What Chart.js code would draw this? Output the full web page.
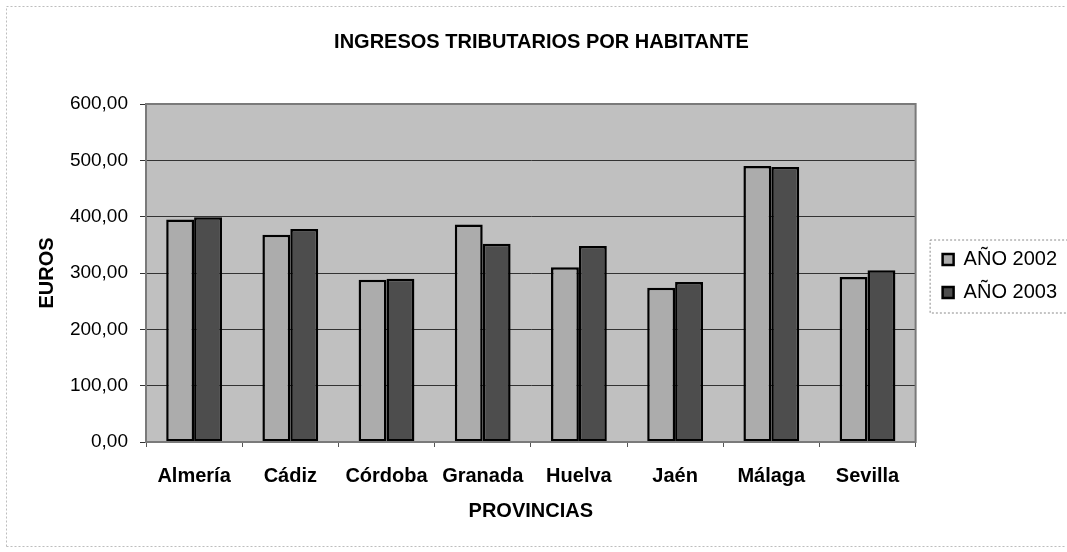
<!DOCTYPE html>
<html>
<head>
<meta charset="utf-8">
<title>Ingresos tributarios por habitante</title>
<script src="https://cdn.jsdelivr.net/npm/chart.js@4"></script>
<style>
  html, body { margin: 0; padding: 0; background: #fff; }
  #wrap { position: relative; width: 1067px; height: 552px; }
</style>
</head>
<body>
<div id="wrap"><canvas id="chart" width="1067" height="552"></canvas></div>
<script>
// Data
const provincias = ["Almería", "Cádiz", "Córdoba", "Granada", "Huelva", "Jaén", "Málaga", "Sevilla"];
const ano2002 = [395, 368, 288, 386, 310, 274, 490, 293];
const ano2003 = [399, 378, 290, 352, 348, 284, 488, 305];
const yTickLabels = ["0,00", "100,00", "200,00", "300,00", "400,00", "500,00", "600,00"];

const font = "'Liberation Sans', Arial, sans-serif";

// grey plot area + frame, like the old Excel chart
const plotBackground = {
  id: "plotBackground",
  beforeDraw(chart) {
    const { ctx, chartArea: a } = chart;
    ctx.save();
    ctx.fillStyle = "#c0c0c0";
    ctx.fillRect(a.left, a.top, a.right - a.left, a.bottom - a.top);
    ctx.restore();
  },
  afterDraw(chart) {
    const { ctx, chartArea: a, legend } = chart;
    ctx.save();
    // plot frame
    ctx.strokeStyle = "#7a7a7a";
    ctx.lineWidth = 2;
    ctx.strokeRect(a.left, a.top, a.right - a.left, a.bottom - a.top);
    // outer chart frame
    ctx.strokeStyle = "#bdbdbd";
    ctx.lineWidth = 1;
    ctx.setLineDash([2, 2]);
    ctx.beginPath();
    ctx.moveTo(6.5, 546.5);
    ctx.lineTo(6.5, 6.5);
    ctx.lineTo(1066, 6.5);
    ctx.moveTo(6.5, 546.5);
    ctx.lineTo(1066, 546.5);
    ctx.stroke();
    // legend frame
    if (legend && legend.legendHitBoxes.length) {
      const boxes = legend.legendHitBoxes;
      const top = boxes[0].top - 10;
      const bottom = boxes[boxes.length - 1].top + boxes[boxes.length - 1].height + 10;
      ctx.strokeStyle = "#8a8a8a";
      ctx.strokeRect(legend.left + 0.5, top + 0.5, legend.right - legend.left, bottom - top);
    }
    ctx.restore();
  },
};

const ctx = document.getElementById("chart").getContext("2d");
new Chart(ctx, {
  type: "bar",
  data: {
    labels: provincias,
    datasets: [
      {
        label: "AÑO 2002",
        data: ano2002,
        backgroundColor: "#acacac",
        borderColor: "#000",
        borderWidth: 2.5,
        borderSkipped: false,
        categoryPercentage: 0.58,
        barPercentage: 1.0,
      },
      {
        label: "AÑO 2003",
        data: ano2003,
        backgroundColor: "#4d4d4d",
        borderColor: "#000",
        borderWidth: 2.5,
        borderSkipped: false,
        categoryPercentage: 0.58,
        barPercentage: 1.0,
      },
    ],
  },
  options: {
    responsive: false,
    animation: false,
    layout: { padding: { top: 20, left: 16, right: 0, bottom: 20 } },
    plugins: {
      title: {
        display: true,
        text: "INGRESOS TRIBUTARIOS POR HABITANTE",
        color: "#000",
        font: { family: font, size: 20, weight: "bold" },
        padding: { top: 10, bottom: 50 },
      },
      legend: {
        position: "right",
        labels: {
          color: "#000",
          font: { family: font, size: 20 },
          boxWidth: 11,
          boxHeight: 11,
          padding: 13,
        },
      },
      tooltip: { enabled: false },
    },
    scales: {
      x: {
        grid: { display: true, drawOnChartArea: false, color: "#555", tickLength: 5 },
        border: { color: "#333", width: 2 },
        ticks: {
          color: "#000",
          font: { family: font, size: 20, weight: "bold" },
          padding: 17,
          maxRotation: 0,
        },
        title: {
          display: true,
          text: "PROVINCIAS",
          color: "#000",
          font: { family: font, size: 20, weight: "bold" },
          padding: { top: 4, bottom: 9 },
        },
        afterFit: (scale) => {
          scale.height = 90;
        },
      },
      y: {
        min: 0,
        max: 600,
        grid: { color: "#333", lineWidth: 1, tickLength: 6 },
        border: { color: "#7a7a7a", width: 2 },
        ticks: {
          stepSize: 100,
          color: "#000",
          font: { family: font, size: 19 },
          padding: 12,
          callback: (value, index) => yTickLabels[index],
        },
        title: {
          display: true,
          text: "EUROS",
          color: "#000",
          font: { family: font, size: 20, weight: "bold" },
          padding: { top: 19, bottom: 0 },
        },
        afterFit: (scale) => {
          scale.width = 130;
        },
      },
      // empty axis only used as a gap between the plot and the legend
      gap: {
        type: "linear",
        position: "right",
        display: true,
        grid: { display: false },
        border: { display: false },
        ticks: { display: false },
        afterFit: (scale) => {
          scale.width = 14;
        },
      },
    },
  },
  plugins: [plotBackground],
});
</script>
</body>
</html>
